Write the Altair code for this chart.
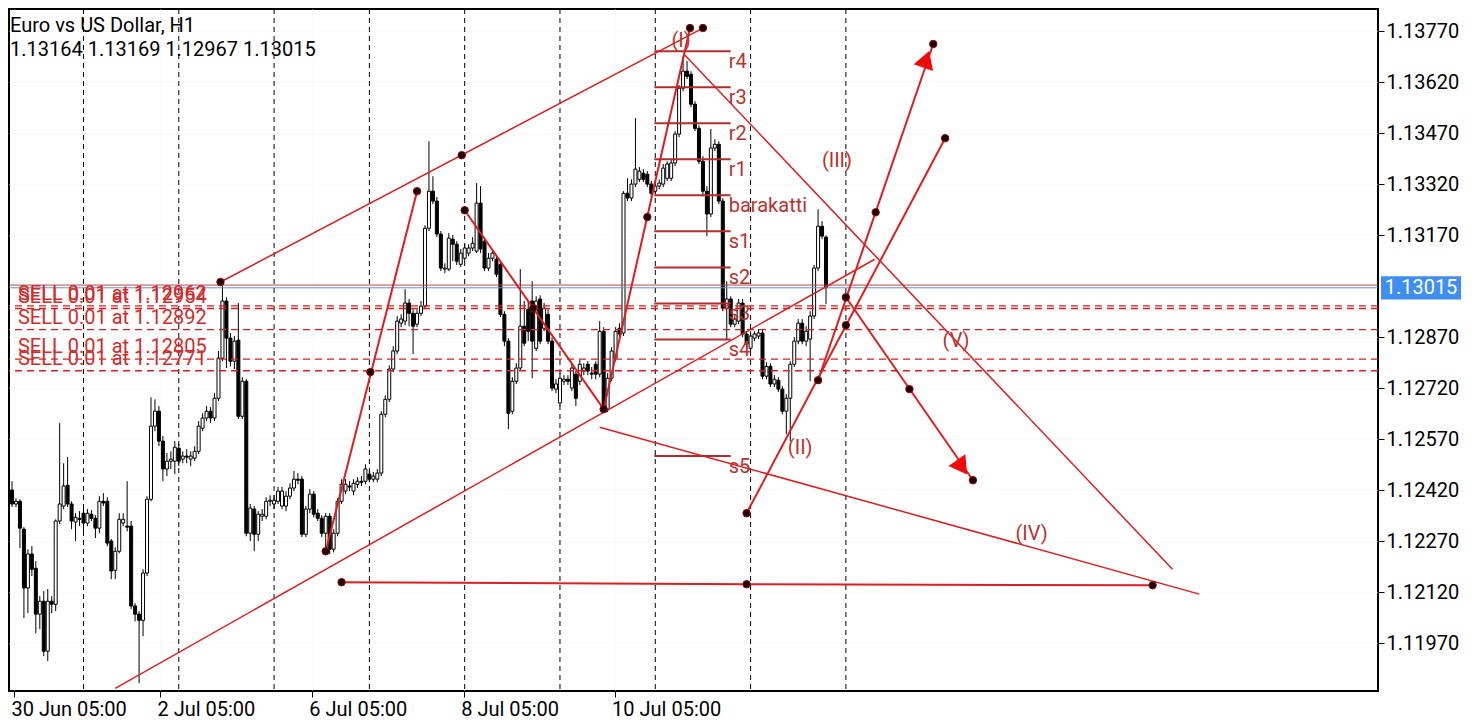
import altair as alt
import pandas as pd

PT = 100000.0  # prices below are stored in points (1e-5)

OPEN = [112470,112420,112379,112387,112305,112132,112232,112190,112055,112093,
        111946,112093,112084,112329,112373,112434,112379,112326,112337,112352,
        112323,112349,112337,112308,112387,112387,112270,112184,112240,112323,
        112314,112314,112079,112055,112037,112176,112393,112608,112652,112564,
        112482,112505,112505,112543,112511,112520,112511,112514,112534,112602,
        112632,112652,112632,112690,112808,112976,112867,112799,112861,112637,
        112740,112293,112364,112290,112343,112343,112387,112379,112387,112373,
        112373,112402,112426,112452,112452,112290,112364,112408,112352,112337,
        112293,112343,112246,112293,112387,112417,112432,112417,112437,112446,
        112446,112467,112452,112452,112470,112643,112687,112776,112829,112911,
        112917,112970,112940,112908,112940,112961,113190,113299,113270,113173,
        113070,113070,113158,113143,113084,113102,113117,113132,113123,113264,
        113152,113073,113102,113099,113084,112937,112858,112652,112740,112779,
        112902,112952,112976,112837,112982,112896,112937,112858,112717,112676,
        112740,112746,112720,112761,112740,112770,112790,112764,112790,112761,
        112887,112658,112749,112808,112896,112882,113293,113279,113320,113334,
        113352,113349,113320,113299,113314,113320,113337,113337,113382,113467,
        113602,113652,113643,113555,113484,113387,113299,113232,113426,113437,
        113270,112955,112982,112908,112917,112970,112879,112837,112867,112873,
        112882,112755,112784,112732,112743,112717,112652,112690,112790,112858,
        112911,112858,112864,112932,113073,113196,113164]
HIGH = [112490,112446,112396,112393,112311,112246,112255,112211,112108,112123,
        112129,112108,112334,112617,112499,112517,112387,112352,112358,112373,
        112364,112361,112346,112402,112411,112399,112276,112252,112352,112352,
        112446,112329,112087,112064,112187,112402,112693,112687,112667,112579,
        112529,112534,112564,112555,112534,112540,112534,112549,112623,112646,
        112667,112664,112705,112829,113020,112987,112882,112873,112970,112752,
        112746,112379,112373,112358,112364,112399,112405,112405,112429,112429,
        112417,112440,112476,112470,112461,112373,112423,112417,112364,112346,
        112352,112352,112305,112396,112452,112452,112446,112452,112458,112461,
        112496,112476,112473,112482,112652,112699,112787,112843,112932,112937,
        113011,112982,112952,112952,112976,113199,113446,113343,113282,113182,
        113087,113176,113170,113152,113129,113143,113143,113164,113323,113314,
        113164,113117,113129,113111,113093,112946,112867,112752,112793,113070,
        112976,112976,113034,112990,112993,112970,112952,112870,112746,112764,
        112758,112758,112793,112770,112805,112793,112799,112782,112799,112917,
        112899,112764,112840,112899,112911,113299,113337,113334,113514,113370,
        113364,113358,113329,113323,113334,113379,113387,113393,113476,113611,
        113696,113682,113652,113564,113493,113402,113314,113482,113452,113446,
        113279,113034,112990,112934,112982,112982,112887,112887,112887,112893,
        112893,112796,112793,112758,112752,112726,112702,112799,112870,112923,
        112923,112902,112946,113082,113246,113211,113169]
LOW = [112402,112370,112370,112249,112043,112058,112167,111999,112011,111932,
       111917,112058,112064,112320,112364,112370,112305,112270,112314,112299,
       112314,112329,112279,112293,112373,112255,112158,112158,112234,112314,
       112299,112070,112034,111852,111990,112167,112387,112593,112549,112446,
       112461,112482,112467,112490,112499,112499,112490,112505,112526,112593,
       112623,112617,112623,112682,112799,112779,112784,112776,112629,112629,
       112284,112270,112240,112270,112329,112334,112373,112364,112379,112364,
       112358,112393,112417,112437,112282,112282,112352,112340,112329,112282,
       112234,112232,112237,112284,112379,112408,112417,112405,112426,112432,
       112437,112443,112443,112443,112461,112634,112679,112767,112820,112899,
       112905,112902,112820,112899,112932,112952,113182,113261,113164,113064,
       113058,113064,113093,113082,113076,113093,113108,113123,113117,113117,
       113064,113064,113093,113046,112929,112843,112599,112643,112732,112770,
       112843,112858,112749,112829,112849,112887,112849,112711,112705,112667,
       112729,112729,112711,112667,112729,112758,112758,112746,112746,112752,
       112652,112649,112740,112799,112870,112873,113270,113270,113311,113326,
       113326,113311,113282,113290,113305,113311,113329,113329,113373,113458,
       113593,113629,113546,113476,113379,113284,113167,113223,113417,113261,
       112946,112864,112899,112899,112908,112870,112840,112829,112858,112864,
       112746,112746,112723,112723,112708,112643,112584,112564,112782,112849,
       112849,112843,112740,112923,113064,113158,112967]
CLOSE = [112417,112379,112387,112308,112132,112232,112187,112055,112093,111946,
         112093,112084,112329,112379,112432,112379,112329,112340,112334,112323,
         112352,112337,112308,112387,112382,112264,112182,112240,112334,112334,
         112311,112079,112055,112037,112176,112393,112608,112652,112564,112482,
         112505,112511,112546,112505,112520,112517,112520,112534,112608,112632,
         112652,112632,112690,112808,112976,112867,112799,112858,112637,112740,
         112293,112367,112290,112349,112349,112387,112390,112390,112417,112417,
         112402,112426,112452,112449,112290,112364,112408,112349,112337,112293,
         112343,112246,112293,112387,112437,112437,112429,112440,112446,112443,
         112482,112452,112461,112470,112643,112687,112776,112829,112917,112923,
         112970,112940,112902,112940,112961,113190,113299,113270,113173,113073,
         113073,113161,113143,113093,113117,113132,113132,113146,113264,113129,
         113073,113102,113117,113055,112937,112858,112646,112740,112779,112902,
         112852,112887,112858,112976,112858,112955,112858,112720,112732,112749,
         112746,112740,112779,112690,112790,112779,112770,112761,112761,112887,
         112661,112749,112829,112887,112879,113293,113279,113320,113364,113358,
         113334,113320,113293,113314,113323,113367,113379,113382,113467,113602,
         113652,113637,113555,113484,113387,113299,113232,113426,113437,113270,
         112955,112982,112908,112923,112970,112879,112849,112873,112879,112882,
         112755,112784,112732,112746,112717,112652,112690,112790,112858,112911,
         112858,112887,112932,113073,113196,113167,113015]

TITLE = "Euro vs US Dollar, H1"
OHLC_LINE = "1.13164 1.13169 1.12967 1.13015"
LAST_PRICE = 1.13015
ASK_PRICE = 1.13023

X_TICKS = [1.5, 38.25, 76.5, 114.75, 152.75]
X_LABELS = ["30 Jun 05:00", "2 Jul 05:00", "6 Jul 05:00", "8 Jul 05:00", "10 Jul 05:00"]
Y_TICKS = [1.1197, 1.1212, 1.1227, 1.1242, 1.1257, 1.1272, 1.1287,
           1.1317, 1.1332, 1.1347, 1.1362, 1.1377]
DAY_LINES = [19, 43, 67, 91, 115, 139, 163, 187, 211]

SELL_PRICES = [1.12962, 1.12954, 1.12892, 1.12805, 1.12771]
SELL_LABEL_X = 2.5

PIVOT_NAMES = ["r4", "r3", "r2", "r1", "barakatti", "s1", "s2", "s3", "s4", "s5"]
PIVOT_PRICES = [1.13711, 1.13605, 1.13499, 1.13393, 1.13287,
                1.13181, 1.13075, 1.12969, 1.12863, 1.12520]
PIVOT_FROM, PIVOT_TO, PIVOT_LABEL_X = 162.75, 182.0, 181.5

# wave / arrow segments: (bar index, price) -> (bar index, price)
MAIN_X1 = [80, 115, 150, 84, 186, 186, 204, 211]
MAIN_P1 = [1.12240, 1.13243, 1.12658, 1.12149, 1.12143, 1.12352, 1.12743, 1.12987]
MAIN_X2 = [103, 150, 171.75, 186, 288.25, 236, 233, 243]
MAIN_P2 = [1.13299, 1.12658, 1.13779, 1.12143, 1.12140, 1.13455, 1.13732, 1.12449]
# channel / fan lines
THIN_X1 = [53.5, 27, 170.25, 149]
THIN_P1 = [1.13032, 1.11837, 1.13702, 1.12605]
THIN_X2 = [175, 218.25, 293.25, 300]
THIN_P2 = [1.13779, 1.13099, 1.12187, 1.12114]

DOT_X = [53.5, 114.25, 80, 91.25, 103, 115, 132.25, 150, 161, 171.75, 175, 84, 186,
         288.25, 186, 204, 211, 211, 218.5, 233, 236, 227, 243]
DOT_P = [1.13032, 1.13405, 1.12240, 1.12767, 1.13299, 1.13243, 1.12955, 1.12658,
         1.13223, 1.13779, 1.13779, 1.12149, 1.12143, 1.12140, 1.12352, 1.12743,
         1.12987, 1.12905, 1.13237, 1.13732, 1.13455, 1.12717, 1.12449]

ARROW_X = [231.25, 240.25]
ARROW_P = [1.13687, 1.12487]
ARROW_ANGLE = [19, 145]

WAVE_TEXT = ["(I)", "(II)", "(III)", "(IV)", "(V)"]
WAVE_X = [169.5, 199.5, 208.75, 257.75, 238.75]
WAVE_P = [1.13740, 1.12543, 1.13387, 1.12290, 1.12858]

# ---------------------------------------------------------------- styling
FONT = "Roboto"
FS = 20
RED = "#dc1e1e"
DARKRED = "#b22d2d"
W, HGT = 1369, 682
xs = alt.Scale(domain=[1.5, 343.75], nice=False, zero=False)
ys = alt.Scale(domain=[1.11829, 1.13835], nice=False, zero=False)

label_expr = " : ".join(
    f"datum.value == {v} ? '{t}'" for v, t in zip(X_TICKS, X_LABELS)) + " : ''"
x_axis = alt.Axis(values=X_TICKS, labelExpr=label_expr, labelAlign="left",
                  labelFlush=False, labelOverlap=False, labelFont=FONT,
                  labelFontSize=FS, labelColor="black", tickColor="black",
                  tickSize=6, labelPadding=2, labelOffset=-3, domain=False,
                  grid=True, gridColor="#e6e6e6", gridDash=[1, 3], title=None)
y_axis = alt.Axis(orient="right", values=Y_TICKS, format=".5f", labelFont=FONT,
                  labelFontSize=FS, labelColor="black", tickColor="black",
                  tickSize=6, labelPadding=2, domain=False, grid=True,
                  gridColor="#e6e6e6", gridDash=[1, 3], labelOverlap=False,
                  title=None)


def X(f):
    return alt.X(f, type="quantitative", scale=xs, axis=x_axis)


def Y(f):
    return alt.Y(f, type="quantitative", scale=ys, axis=y_axis)


n = len(OPEN)
candles = pd.DataFrame({
    "i": list(range(n)),
    "o": [v / PT for v in OPEN],
    "h": [v / PT for v in HIGH],
    "l": [v / PT for v in LOW],
    "c": [v / PT for v in CLOSE],
})
candles["bull"] = candles["c"] >= candles["o"]

day_df = pd.DataFrame({"x": DAY_LINES})
sell_df = pd.DataFrame({"p": SELL_PRICES,
                        "t": [f"SELL 0.01 at {p:.5f}" for p in SELL_PRICES],
                        "x": [SELL_LABEL_X] * len(SELL_PRICES)})
piv_df = pd.DataFrame({"name": PIVOT_NAMES, "p": PIVOT_PRICES,
                       "x0": [PIVOT_FROM] * len(PIVOT_NAMES),
                       "x1": [PIVOT_TO] * len(PIVOT_NAMES),
                       "xl": [PIVOT_LABEL_X] * len(PIVOT_NAMES)})
main_df = pd.DataFrame({"x1": MAIN_X1, "p1": MAIN_P1, "x2": MAIN_X2, "p2": MAIN_P2})
thin_df = pd.DataFrame({"x1": THIN_X1, "p1": THIN_P1, "x2": THIN_X2, "p2": THIN_P2})
dot_df = pd.DataFrame({"x": DOT_X, "p": DOT_P})
arrow_df = pd.DataFrame({"x": ARROW_X, "p": ARROW_P, "a": ARROW_ANGLE})
wave_df = pd.DataFrame({"t": WAVE_TEXT, "x": WAVE_X, "p": WAVE_P})
price_df = pd.DataFrame({"p": [LAST_PRICE], "t": [f"{LAST_PRICE:.5f}"]})
ask_df = pd.DataFrame({"p": [ASK_PRICE]})
title_df = pd.DataFrame({"t": [TITLE], "o": [OHLC_LINE]})

layers = []
layers.append(alt.Chart(day_df).mark_rule(color="black", strokeWidth=1,
                                          strokeDash=[5, 4]).encode(x=X("x")))
layers.append(alt.Chart(candles).mark_rule(color="black", strokeWidth=1, clip=True)
              .encode(x=X("i"), y=Y("l"), y2="h"))
layers.append(alt.Chart(candles).mark_bar(width=3, stroke="black", strokeWidth=1,
                                          clip=True)
              .encode(x=X("i"), y=Y("o"), y2="c",
                      fill=alt.condition("datum.bull", alt.value("white"),
                                         alt.value("black"))))
layers.append(alt.Chart(sell_df).mark_rule(color=RED, strokeWidth=1.3,
                                           strokeDash=[7, 5]).encode(y=Y("p")))
layers.append(alt.Chart(ask_df).mark_rule(color="#b04848", strokeWidth=1)
              .encode(y=Y("p")))
layers.append(alt.Chart(price_df).mark_rule(color="#6f8fc8", strokeWidth=1)
              .encode(y=Y("p")))
layers.append(alt.Chart(piv_df).mark_rule(color=DARKRED, strokeWidth=2)
              .encode(x=X("x0"), x2="x1", y=Y("p")))
layers.append(alt.Chart(piv_df).mark_text(align="left", baseline="alphabetic", dy=17,
                                          font=FONT, fontSize=FS, color="#b8332e")
              .encode(x=X("xl"), y=Y("p"), text="name:N"))
layers.append(alt.Chart(thin_df).mark_rule(color=RED, strokeWidth=1.5, clip=True)
              .encode(x=X("x1"), y=Y("p1"), x2="x2", y2="p2"))
layers.append(alt.Chart(main_df).mark_rule(color=RED, strokeWidth=2, clip=True)
              .encode(x=X("x1"), y=Y("p1"), x2="x2", y2="p2"))
layers.append(alt.Chart(dot_df).mark_circle(size=55, color="#150000", stroke="#a00000",
                                            strokeWidth=1, opacity=1)
              .encode(x=X("x"), y=Y("p")))
layers.append(alt.Chart(arrow_df).mark_point(shape="triangle-up", filled=True,
                                             size=420, color="#ee0a0a", opacity=1)
              .encode(x=X("x"), y=Y("p"), angle=alt.Angle("a:Q", scale=None)))
layers.append(alt.Chart(wave_df).mark_text(align="center", baseline="middle",
                                           font=FONT, fontSize=FS, color="#b8332e")
              .encode(x=X("x"), y=Y("p"), text="t:N"))
layers.append(alt.Chart(sell_df).mark_text(align="left", baseline="alphabetic", dy=-6,
                                           font=FONT, fontSize=FS, color="#d22b2b")
              .encode(x=X("x"), y=Y("p"), text="t:N"))
layers.append(alt.Chart(title_df).mark_text(align="left", baseline="alphabetic",
                                            font=FONT, fontSize=FS, color="black")
              .encode(x=alt.value(1), y=alt.value(23), text="t:N"))
layers.append(alt.Chart(title_df).mark_text(align="left", baseline="alphabetic",
                                            font=FONT, fontSize=FS, color="black")
              .encode(x=alt.value(1), y=alt.value(47), text="o:N"))
layers.append(alt.Chart(price_df).mark_point(
    shape="M-1,-0.29L1,-0.29L1,0.29L-1,0.29Z", filled=True, size=6400,
    color="#3f8ef2", opacity=1, clip=False)
    .encode(x=alt.value(1412), y=Y("p")))
layers.append(alt.Chart(price_df).mark_text(align="center", baseline="middle",
                                            font=FONT, fontSize=FS, color="white")
              .encode(x=alt.value(1412), y=Y("p"), text="t:N"))

chart = (alt.layer(*layers)
         .properties(width=W, height=HGT, padding=0, background="white")
         .configure_view(stroke="black", strokeWidth=2))

chart.save("out.html", embed_options={"renderer": "svg", "actions": False})
